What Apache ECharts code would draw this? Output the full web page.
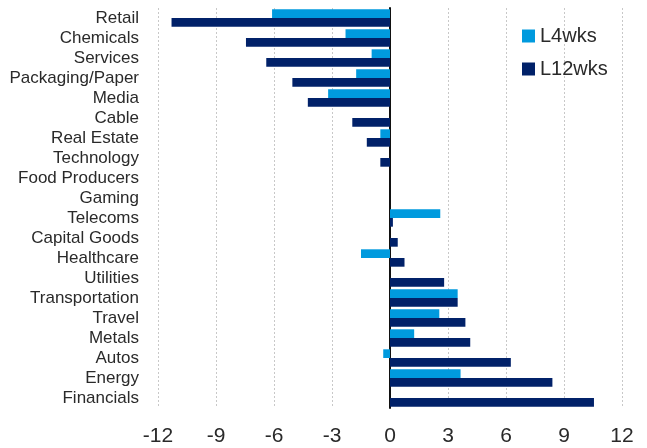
<!DOCTYPE html>
<html>
<head>
<meta charset="utf-8">
<script src="https://cdn.jsdelivr.net/npm/echarts@6/dist/echarts.min.js"></script>
<style>
  html, body { margin: 0; padding: 0; background: #fff; }
  #chart { width: 647px; height: 448px; }
</style>
</head>
<body>
<div id="chart"></div>
<script>
// sectors, top to bottom
const sectors = ['Retail', 'Chemicals', 'Services', 'Packaging/Paper', 'Media', 'Cable',
  'Real Estate', 'Technology', 'Food Producers', 'Gaming', 'Telecoms', 'Capital Goods',
  'Healthcare', 'Utilities', 'Transportation', 'Travel', 'Metals', 'Autos', 'Energy', 'Financials'];
const l4wks = [-6.1, -2.3, -0.95, -1.75, -3.2, 0, -0.5, 0, 0, 0, 2.6, 0,
  -1.5, 0, 3.5, 2.55, 1.25, -0.35, 3.65, 0];
const l12wks = [-11.3, -7.45, -6.4, -5.05, -4.25, -1.95, -1.2, -0.5, 0, 0, 0.15, 0.4,
  0.75, 2.8, 3.5, 3.9, 4.15, 6.25, 8.4, 10.55];
const xTicks = [-12, -9, -6, -3, 0, 3, 6, 9, 12];

const font = '"Liberation Sans", Arial, sans-serif';

let myChart = echarts.init(document.getElementById('chart'));
let option = {
    animation: false,
    color: ['#009ADE', '#012169'],
    grid: { left: 158, right: 25, top: 8, bottom: 40 },
    legend: {
        orient: 'vertical',
        left: 522,
        top: 26,
        padding: 0,
        icon: 'rect',
        itemWidth: 13,
        itemHeight: 13,
        itemGap: 13,
        textStyle: { fontFamily: font, fontSize: 20, color: '#2a2a2a' },
        data: ['L4wks', 'L12wks']
    },
    xAxis: {
        type: 'value',
        min: xTicks[0],
        max: xTicks[xTicks.length - 1],
        interval: 3,
        axisLine: { show: false },
        axisTick: { show: false },
        axisLabel: { fontFamily: font, fontSize: 21, color: '#2a2a2a', margin: 18 },
        splitLine: { lineStyle: { type: [2, 2], color: '#c8c8c8', width: 1 } }
    },
    yAxis: {
        type: 'category',
        inverse: true,
        data: sectors,
        axisLine: { onZero: true, lineStyle: { color: '#111', width: 2 } },
        axisTick: { show: false },
        axisLabel: {
            fontFamily: font, fontSize: 17, color: '#2a2a2a',
            interval: 0,
            margin: 19
        },
        splitLine: { show: false }
    },
    series: [
        { name: 'L4wks', type: 'bar', data: l4wks, barGap: '0%', barCategoryGap: '13%' },
        { name: 'L12wks', type: 'bar', data: l12wks, barGap: '0%', barCategoryGap: '13%' }
    ]
};
myChart.setOption(option);
window.addEventListener('resize', function () { myChart.resize() });
</script>
</body>
</html>
